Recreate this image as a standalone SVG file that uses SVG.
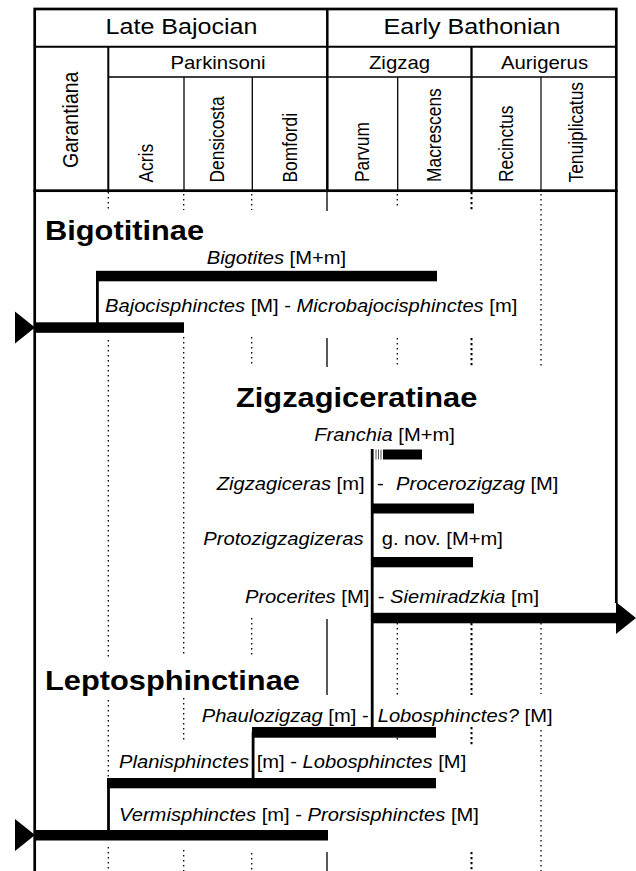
<svg xmlns="http://www.w3.org/2000/svg" width="636" height="871" viewBox="0 0 636 871">
<style>
text{font-family:"Liberation Sans",Arial,sans-serif;fill:#000}
.stage{font-size:22.4px}
.zone{font-size:18.2px}
.sub{font-size:17.4px}
.fam{font-size:27.5px;font-weight:bold}
.lab{font-size:18px}
.it{font-style:italic}
.ln{stroke:#000;fill:none}
.dot{stroke:#000;stroke-width:1.3;stroke-dasharray:1.6 3.4;fill:none}
.dotb{stroke:#000;stroke-width:2;stroke-dasharray:2.2 2.8;fill:none}
.sol{stroke:#000;stroke-width:1.3;fill:none}
.bar{fill:#000}
.stem{stroke:#000;stroke-width:2.8;fill:none}
</style>
<rect width="636" height="871" fill="#fff"/>
<g id="header">
<rect x="34.7" y="9" width="581.6" height="181.7" class="ln" stroke-width="2.7"/>
<line x1="34.7" y1="46.7" x2="616.3" y2="46.7" class="ln" stroke-width="2"/>
<line x1="108.3" y1="77" x2="616.3" y2="77" class="ln" stroke-width="1.7"/>
<line x1="108.3" y1="46.7" x2="108.3" y2="190.7" class="ln" stroke-width="2"/>
<line x1="327.3" y1="9" x2="327.3" y2="190.7" class="ln" stroke-width="2.5"/>
<line x1="471.5" y1="46.7" x2="471.5" y2="190.7" class="ln" stroke-width="2.3"/>
<line x1="184" y1="77" x2="184" y2="190.7" class="ln" stroke-width="1.3"/>
<line x1="252.3" y1="77" x2="252.3" y2="190.7" class="ln" stroke-width="1.3"/>
<line x1="397.7" y1="77" x2="397.7" y2="190.7" class="ln" stroke-width="1.3"/>
<line x1="541" y1="77" x2="541" y2="190.7" class="ln" stroke-width="1.2"/>
<text class="stage" text-anchor="middle" transform="translate(181.5 34.3) scale(1.12 1)">Late Bajocian</text>
<text class="stage" text-anchor="middle" transform="translate(472 34.3) scale(1.12 1)">Early Bathonian</text>
<text class="zone" text-anchor="middle" transform="translate(218 69) scale(1.12 1)">Parkinsoni</text>
<text class="zone" text-anchor="middle" transform="translate(399.5 69) scale(1.12 1)">Zigzag</text>
<text class="zone" text-anchor="middle" transform="translate(544.5 69) scale(1.12 1)">Aurigerus</text>
<text style="font-size:19.5px" transform="translate(77.5 168) rotate(-90) scale(1 1.12)">Garantiana</text>
<text class="sub" transform="translate(153.3 182.5) rotate(-90) scale(1 1.12)">Acris</text>
<text class="sub" transform="translate(224 182.5) rotate(-90) scale(1 1.12)">Densicosta</text>
<text class="sub" transform="translate(296.7 182.5) rotate(-90) scale(1 1.12)">Bomfordi</text>
<text class="sub" transform="translate(368.5 182) rotate(-90) scale(1 1.12)">Parvum</text>
<text class="sub" transform="translate(441 182) rotate(-90) scale(1 1.12)">Macrescens</text>
<text class="sub" transform="translate(512.7 182) rotate(-90) scale(1 1.12)">Recinctus</text>
<text class="sub" transform="translate(583 182.5) rotate(-90) scale(1 1.12)">Tenuiplicatus</text>
</g>
<g id="frame">
<line x1="34.7" y1="190" x2="34.7" y2="871" class="ln" stroke-width="2.7"/>
<line x1="616.3" y1="190" x2="616.3" y2="603" class="ln" stroke-width="2.7"/>
</g>
<g id="guides">
<path class="dot" d="M108.3 192V212M108.3 340V657M108.3 700V778M108.3 847V871"/>
<path class="dot" d="M183.7 194V210M183.7 337V655M183.7 698V740M183.7 850V871"/>
<path class="dot" d="M251.7 194V210M251.7 337V366M251.7 618V655M251.7 853V871"/>
<path class="sol" d="M327 192V211M327 338V367M327 619V695M327 852V871"/>
<path class="dot" d="M397.3 194V209M397.3 338V366M397.3 623V695M397.3 738V742"/>
<path class="dotb" d="M471.5 192V211M471.5 338V366M471.5 623V695M471.5 727V745M471.5 852V871"/>
<path class="dot" d="M541 194V366M541 623V694M541 730V871"/>
</g>
<g id="Bigotitinae">
<text class="fam" transform="translate(45 240) scale(1.12 1)">Bigotitinae</text>
</g>
<g id="Bigotites">
<text class="lab" transform="translate(206.7 264) scale(1.12 1)"><tspan class="it">Bigotites</tspan> [M+m]</text>
<rect class="bar" x="96" y="270.8" width="341" height="10.5"/>
</g>
<g id="Bajocisphinctes">
<text class="lab" transform="translate(105 312) scale(1.12 1)"><tspan class="it">Bajocisphinctes</tspan> [M] - <tspan class="it">Microbajocisphinctes</tspan> [m]</text>
<rect class="bar" x="35" y="322.3" width="149" height="10.5"/>
<polygon class="bar" points="15,311.5 35,327.5 15,343.5"/>
</g>
<g id="Zigzagiceratinae">
<text class="fam" transform="translate(236 407) scale(1.12 1)">Zigzagiceratinae</text>
</g>
<g id="Franchia">
<text class="lab" transform="translate(314.3 441) scale(1.12 1)"><tspan class="it">Franchia</tspan> [M+m]</text>
<path d="M376 449.5V459.5M378.5 449.5V459.5M381 449.5V459.5" stroke="#555" stroke-width="1"/>
<rect class="bar" x="383" y="449.5" width="39" height="10"/>
</g>
<g id="Zigzagiceras">
<text class="lab it" transform="translate(216.7 490) scale(1.12 1)">Zigzagiceras<tspan style="font-style:normal"> [m]</tspan></text>
<text class="lab" transform="translate(377 490) scale(1.12 1)">-</text>
<text class="lab" transform="translate(396 490) scale(1.12 1)"><tspan class="it">Procerozigzag</tspan> [M]</text>
<rect class="bar" x="372" y="503.5" width="102" height="10"/>
</g>
<g id="Protozigzagizeras">
<text class="lab it" transform="translate(203.3 545) scale(1.12 1)">Protozigzagizeras</text>
<text class="lab" transform="translate(381.7 545) scale(1.12 1)">g. nov. [M+m]</text>
<rect class="bar" x="372" y="557" width="101" height="10.3"/>
</g>
<g id="Procerites">
<text class="lab" text-anchor="end" transform="translate(369.3 603.3) scale(1.12 1)"><tspan class="it">Procerites</tspan> [M]</text>
<text class="lab" transform="translate(377.7 603.3) scale(1.12 1)">- <tspan class="it">Siemiradzkia</tspan> [m]</text>
<rect class="bar" x="372" y="612.8" width="245" height="10.5"/>
<polygon class="bar" points="616,602 636,618 616,634"/>
</g>
<g id="Leptosphinctinae">
<text class="fam" transform="translate(45 690) scale(1.12 1)">Leptosphinctinae</text>
</g>
<g id="Phaulozigzag">
<text class="lab" transform="translate(201.7 721.5) scale(1.12 1)"><tspan class="it">Phaulozigzag</tspan> [m] -</text>
<text class="lab" transform="translate(377.7 721.5) scale(1.12 1)"><tspan class="it">Lobosphinctes?</tspan> [M]</text>
<rect class="bar" x="252" y="727" width="184" height="10.7"/>
</g>
<g id="Planisphinctes">
<text class="lab it" transform="translate(119 768) scale(1.12 1)">Planisphinctes</text>
<text class="lab" transform="translate(256.7 768) scale(1.12 1)">[m] - <tspan class="it">Lobosphinctes</tspan> [M]</text>
<rect class="bar" x="107" y="778" width="329" height="10.3"/>
</g>
<g id="Vermisphinctes">
<text class="lab" transform="translate(119 820.5) scale(1.12 1)"><tspan class="it">Vermisphinctes</tspan> [m] - <tspan class="it">Prorsisphinctes</tspan> [M]</text>
<rect class="bar" x="35" y="830" width="293" height="10.5"/>
<polygon class="bar" points="15,819 35,835 15,851"/>
</g>
<g id="connectors">
<line class="stem" x1="97.4" y1="276" x2="97.4" y2="327"/>
<line class="stem" x1="372.2" y1="449" x2="372.2" y2="732"/>
<line class="stem" x1="253.1" y1="732" x2="253.1" y2="783"/>
<line class="stem" x1="108.5" y1="783" x2="108.5" y2="835"/>
</g>
</svg>
